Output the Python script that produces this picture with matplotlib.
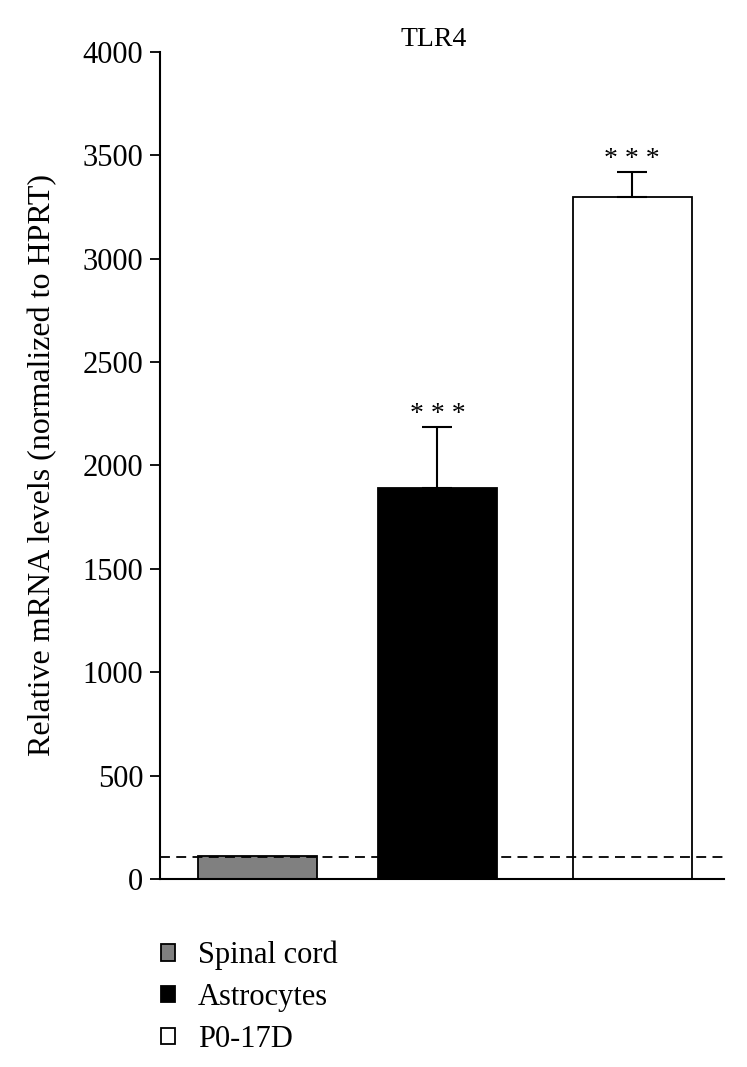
import numpy as np
import matplotlib.pyplot as plt

# data
groups = ["Spinal cord", "Astrocytes", "P0-17D"]
values = [110, 1890, 3300]
errors = [0, 295, 120]
stars = ["", "* * *", "* * *"]
baseline = 105
colors = ["#808080", "#000000", "#ffffff"]

plt.rcParams['font.family'] = ['Liberation Serif', 'DejaVu Serif']


def plot_tlr4():
    fig = plt.figure(figsize=(7.47, 10.67), dpi=100)
    ax = fig.add_axes([0.2142, 0.1762, 0.755, 0.7751])

    x = np.array([0, 0.96, 2.0])
    bars = ax.bar(x, values, width=0.635, color=colors, edgecolor="black",
                  linewidth=1.3, label=groups, zorder=2)
    for xi, v, e, s in zip(x, values, errors, stars):
        if e > 0:
            ax.errorbar(xi, v, yerr=[[0], [e]], fmt="none", ecolor="black",
                        elinewidth=1.5, capsize=11, capthick=1.5, zorder=3)
        if s:
            ax.annotate(s, (xi, v + e), xytext=(0, 0), textcoords="offset points",
                        ha="center", va="bottom", fontsize=20)

    ax.axhline(baseline, color="black", linestyle=(0, (5.5, 3.5)), linewidth=1.3, zorder=4)

    ax.set_xlim(-0.52, 2.49)
    ax.set_ylim(0, 4000)
    ax.set_yticks(np.arange(0, 4001, 500))
    ax.set_xticks([])
    ax.tick_params(axis="y", direction="out", length=7, width=1.3, labelsize=22, pad=5)
    for side in ["top", "right"]:
        ax.spines[side].set_visible(False)
    for side in ["left", "bottom"]:
        ax.spines[side].set_linewidth(1.5)

    ax.set_ylabel("Relative mRNA levels (normalized to HPRT)", fontsize=23, labelpad=18)
    ax.set_title("TLR4", fontsize=20, pad=3, x=0.485)

    ax.legend(handles=list(bars), labels=groups, loc="upper left",
              bbox_to_anchor=(-0.02, -0.06), frameon=False, fontsize=22,
              handlelength=0.45, handleheight=0.45, handletextpad=0.75,
              labelspacing=0.42, borderaxespad=0)

    fig.savefig("out.png", dpi=100)


if __name__ == "__main__":
    plot_tlr4()
